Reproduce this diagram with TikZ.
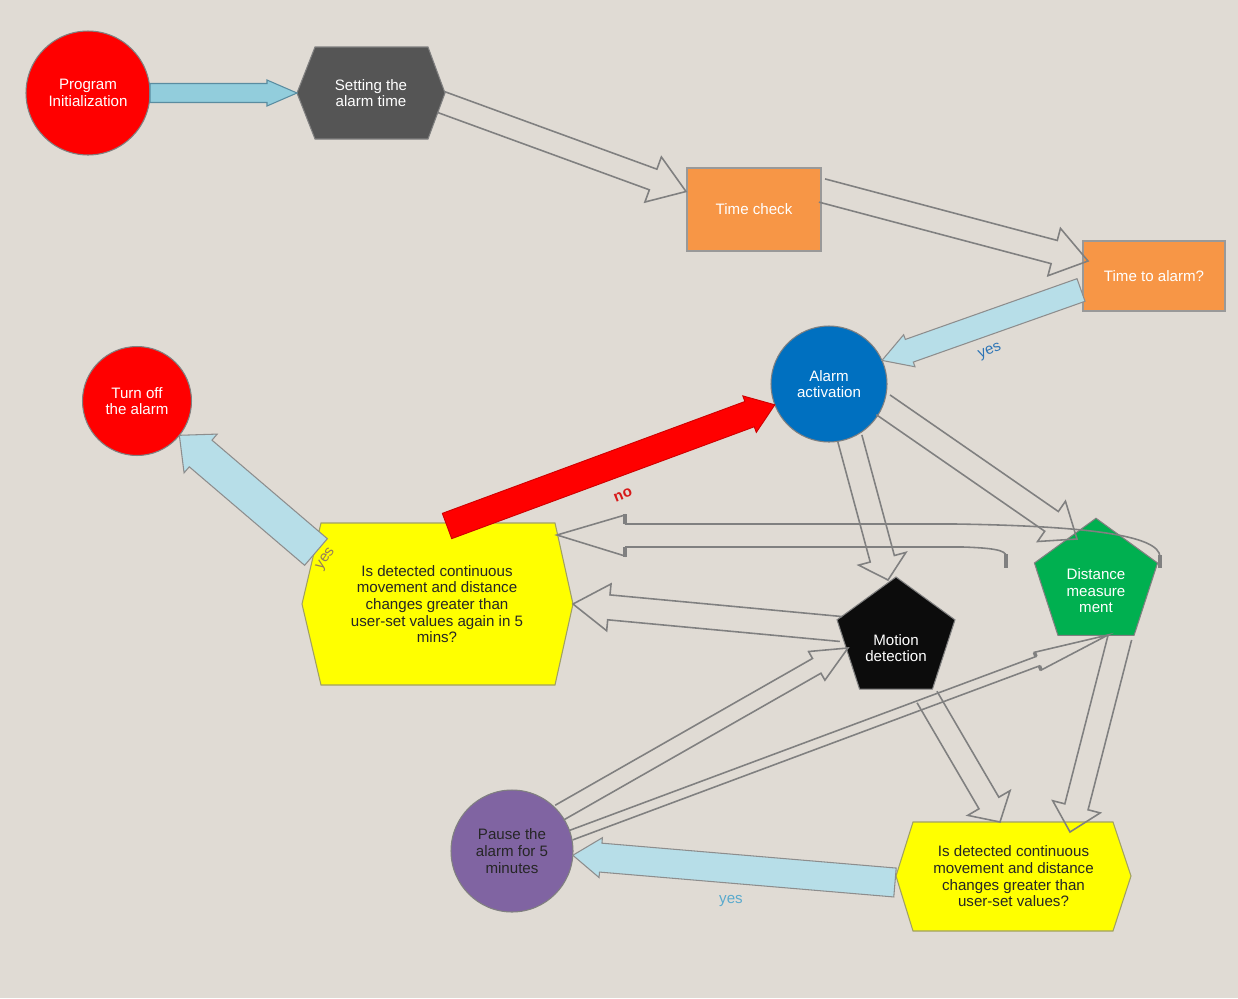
\documentclass[tikz,border=0pt]{standalone}
\usepackage{fontspec}
\setmainfont{Liberation Sans}
\usetikzlibrary{shapes.geometric, calc}

\definecolor{bgcol}{RGB}{224,219,212}
\definecolor{initred}{RGB}{255,0,0}
\definecolor{hexgray}{RGB}{85,85,85}
\definecolor{boxorange}{RGB}{247,150,70}
\definecolor{alarmblue}{RGB}{0,112,192}
\definecolor{hexyellow}{RGB}{255,255,0}
\definecolor{hexline}{RGB}{160,160,100}
\definecolor{motionblack}{RGB}{12,12,12}
\definecolor{distgreen}{RGB}{0,176,80}
\definecolor{pausepurple}{RGB}{128,100,162}
\definecolor{arrblue}{RGB}{146,205,220}
\definecolor{arrblueline}{RGB}{90,140,160}
\definecolor{arrlight}{RGB}{183,222,232}
\definecolor{linegray}{RGB}{128,128,128}
\definecolor{yesblue}{RGB}{46,117,182}
\definecolor{yesbrown}{RGB}{150,125,90}
\definecolor{yeslight}{RGB}{90,170,205}
\definecolor{nored}{RGB}{215,25,25}

\newcommand{\pxu}{0.02cm}
% corners of a straight block arrow: {from}{to}{half shaft}{half head}{head length}
\newcommand{\arrowcorners}[5]{%
  \coordinate (ba-s) at (#1);
  \coordinate (ba-e) at (#2);
  \coordinate (ba-h) at ($(ba-e)!#5*\pxu!(ba-s)$);
  \coordinate (ba-1) at ($(ba-s)!#3*\pxu!90:(ba-e)$);
  \coordinate (ba-2) at ($(ba-h)!#3*\pxu!90:(ba-e)$);
  \coordinate (ba-3) at ($(ba-h)!#4*\pxu!90:(ba-e)$);
  \coordinate (ba-5) at ($(ba-h)!#4*\pxu!-90:(ba-e)$);
  \coordinate (ba-6) at ($(ba-h)!#3*\pxu!-90:(ba-e)$);
  \coordinate (ba-7) at ($(ba-s)!#3*\pxu!-90:(ba-e)$);
}
\newcommand{\blockarrow}[6][]{%
  \arrowcorners{#2}{#3}{#4}{#5}{#6}
  \filldraw[#1] (ba-1) -- (ba-2) -- (ba-3) -- (ba-e) -- (ba-5) -- (ba-6) -- (ba-7) -- cycle;
}
\newcommand{\hollowarrow}[6][]{%
  \arrowcorners{#2}{#3}{#4}{#5}{#6}
  \draw[hollow, #1] (ba-1) -- (ba-2) -- (ba-3) -- (ba-e) -- (ba-5) -- (ba-6) -- (ba-7);
}

\begin{document}
\begin{tikzpicture}[x=0.02cm, y=-0.02cm,
  every node/.style={font=\fontsize{8.6}{9.5}\selectfont, align=center, inner sep=0pt, outer sep=0pt},
  roundnode/.style={circle, draw=linegray, line width=0.6pt, text=white},
  boxnode/.style={rectangle, draw=linegray!80, line width=0.6pt, fill=boxorange, text=white},
  pentnode/.style={regular polygon, regular polygon sides=5, draw=linegray, line width=0.6pt, text=white},
  hexshape/.style={line width=0.6pt},
  hollow/.style={draw=linegray, line width=0.9pt},
  lightarrow/.style={fill=arrlight, draw=linegray!90, line width=0.6pt}
]
\useasboundingbox (0,0) rectangle (1238,998);
\fill[bgcol] (0,0) rectangle (1238,998);

% Hexagon outlines
\filldraw[hexshape, fill=hexgray, draw=linegray] (297,93) -- (315,47) -- (428,47) -- (445,93) -- (428,139) -- (315,139) -- cycle;
\filldraw[hexshape, fill=hexyellow, draw=hexline] (302,604) -- (321,523) -- (555,523) -- (573,604) -- (555,685) -- (321,685) -- cycle;
\filldraw[hexshape, fill=hexyellow, draw=hexline] (896,876) -- (913,822) -- (1113,822) -- (1131,876) -- (1113,931) -- (913,931) -- cycle;

% Nodes
\node[roundnode, fill=initred, minimum size=2.48cm] (init) at (88,93) {Program\\Initialization};
\node[text=white, minimum width=2.96cm, minimum height=1.84cm] (set) at (371,93) {Setting the\\alarm time};
\node[boxnode, minimum width=2.68cm, minimum height=1.66cm] (tcheck) at (754,209.5) {Time check};
\node[boxnode, minimum width=2.84cm, minimum height=1.40cm] (talarm) at (1154,276) {Time to alarm?};
\node[roundnode, fill=alarmblue, minimum size=2.32cm] (alarm) at (829,384) {Alarm\\activation};
\node[roundnode, fill=initred, minimum size=2.18cm] (toff) at (137,401) {Turn off\\the alarm};
\node[text=black!85] (again) at (437,604) {Is detected continuous\\movement and distance\\changes greater than\\user-set values again in 5\\mins?};
\node[pentnode, fill=motionblack, minimum size=2.48cm] (motion) at (896,639) {\rule{0pt}{16.5pt}Motion\\detection};
\node[pentnode, fill=distgreen, minimum size=2.59cm] (dist) at (1096,583) {\rule{0pt}{15pt}Distance\\measure\\ment};
\node[roundnode, fill=pausepurple, text=black!85, minimum size=2.44cm] (pause) at (512,851) {Pause the\\alarm for 5\\minutes};
\node[text=black!85] (check) at (1013.5,876.5) {Is detected continuous\\movement and distance\\changes greater than\\user-set values?};

% Main sequence
\blockarrow[fill=arrblue, draw=arrblueline, line width=0.6pt]{init.east}{set.west}{9.5}{13}{30}
\hollowarrow{$(set.east)+(-4,9)$}{$(tcheck.west)+(-1,-18)$}{11}{24}{35}
\hollowarrow{$(tcheck.east)+(1,-19)$}{$(talarm.west)+(5,-15)$}{12}{24.5}{35}
\blockarrow[lightarrow]{$(talarm.west)+(-2,14)$}{alarm.24}{12}{17}{29}
\node[text=yesblue, rotate=22] (yes-a) at (990,352) {yes};

% Alarm branches
\hollowarrow{alarm.-21}{$(dist.center)+(-19,-44)$}{12}{24.5}{31}
\hollowarrow{alarm.-69}{$(motion.center)+(-8,-59)$}{12.5}{24.5}{22}
\hollowarrow{$(motion.center)+(-55,-10)$}{$(again.center)+(136,0)$}{12.5}{23.5}{36}

% Curved return from distance measurement
\draw[hollow] (625,524) -- (955,524) .. controls (1085,526) and (1160,535) .. (1160,557);
\draw[hollow] (625,547) -- (963,547) .. controls (992,548) and (1006,550) .. (1006,556);
\draw[hollow] (625,524) -- (625,515) -- ($(again.center)+(120,-69)$) -- (625,556) -- (625,547);
\draw[linegray, line width=2pt] (625,514) -- (625,524) (625,547) -- (625,557) (1160,555) -- (1160,568) (1006,554) -- (1006,568);

% Second check
\blockarrow[fill=red, draw=red!80!black, line width=0.5pt]{$(again.center)+(10,-78)$}{alarm.201}{13.5}{19.5}{27}
\node[text=nored, font=\fontsize{8.6}{9.5}\selectfont\bfseries, rotate=22] (no-a) at (623,495) {no};
\blockarrow[lightarrow]{$(again.center)+(-121,-52)$}{toff.-39}{17.5}{25.5}{28}
\node[text=yesbrown, rotate=55] (yes-b) at (326,559) {yes};

% Pause loop
\hollowarrow{pause.39}{$(motion.center)+(-48,9)$}{8.5}{16.5}{36}
\hollowarrow{pause.15}{$(dist.center)+(12,52)$}{5}{9.5}{75}
\draw[linegray, line width=2pt] (ba-2) -- (ba-3) (ba-5) -- (ba-6);
\hollowarrow{$(motion.center)+(31,58)$}{$(check.center)+(-13.5,-54.5)$}{11.5}{24.5}{22}
\hollowarrow{$(dist.center)+(24,54)$}{$(check.center)+(56.5,-44.5)$}{12}{24.5}{26}
\blockarrow[lightarrow]{$(check.center)+(-118.5,6)$}{pause.-4}{14.5}{20}{28}
\node[text=yeslight] (yes-c) at (731,901) {yes};
\end{tikzpicture}
\end{document}
